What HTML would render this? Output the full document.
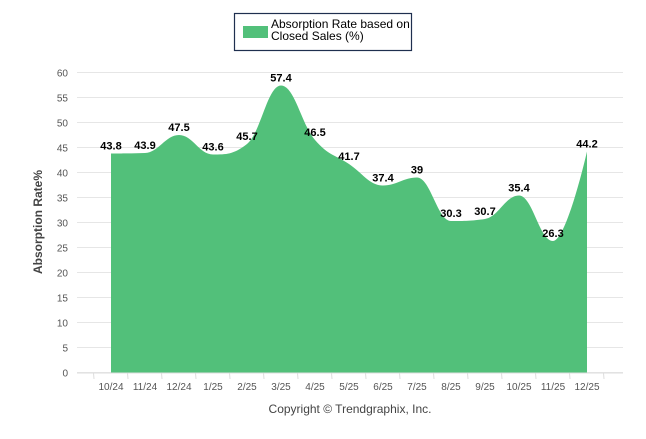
<!DOCTYPE html>
<html><head><meta charset="utf-8"><style>
body{margin:0;background:#fff;font-family:"Liberation Sans",sans-serif}
svg text{font-family:"Liberation Sans",sans-serif}
</style></head><body>
<svg width="646" height="434">
<g id="grid"></g>
<path id="area" fill="#52c07a"></path>
<g id="labels"></g>
<g id="xaxis"></g>
<g id="yaxis"></g>
<text transform="translate(42,222) rotate(-90)" text-anchor="middle" font-size="12" font-weight="bold" fill="#444">Absorption Rate%</text>
<text x="350" y="413" text-anchor="middle" font-size="12" fill="#444">Copyright © Trendgraphix, Inc.</text>
<g>
<rect x="234.5" y="13.5" width="177" height="37" fill="#fff" stroke="#1f2f4f" stroke-width="1.2"/>
<rect x="243" y="26" width="25" height="12" fill="#52c07a"/>
<text x="271" y="28" font-size="12" fill="#000">Absorption Rate based on</text>
<text x="271" y="40" font-size="12" fill="#000">Closed Sales (%)</text>
</g>
</svg>
<script>
const categories=["10/24","11/24","12/24","1/25","2/25","3/25","4/25","5/25","6/25","7/25","8/25","9/25","10/25","11/25","12/25"];
const values=[43.8,43.9,47.5,43.6,45.7,57.4,46.5,41.7,37.4,39,30.3,30.7,35.4,26.3,44.2];
const yTicks=[0,5,10,15,20,25,30,35,40,45,50,55,60];
const NS="http://www.w3.org/2000/svg";
const x=i=>111+i*34, y=v=>372.5-v*5;
function mk(t,a,p,txt){const e=document.createElementNS(NS,t);for(const k in a)e.setAttribute(k,a[k]);if(txt!=null)e.textContent=txt;p.appendChild(e);return e;}
const grid=document.getElementById('grid'),ya=document.getElementById('yaxis'),xa=document.getElementById('xaxis'),lb=document.getElementById('labels');
yTicks.forEach(t=>{
 const l=mk('line',{x1:77,x2:623,y1:y(t),y2:y(t),stroke:'#e6e6e6'},grid);
 
 
 const tx=mk('text',{x:68,y:y(t)+4,'text-anchor':'end','font-size':10,fill:'#555'},ya,t);
 
 
});
mk('line',{x1:77,x2:623,y1:373,y2:373,stroke:'#ddd'},xa);
for(let i=-1;i<categories.length;i++){mk('line',{x1:x(i+0.5)-0.5+0,x2:x(i+0.5),y1:373,y2:379,stroke:'#ddd'},xa);}
categories.forEach((c,i)=>{
 const t=mk('text',{x:x(i),y:390,'text-anchor':'middle','font-size':10,fill:'#555'},xa,c);
 
 
 const v=mk('text',{x:x(i),y:y(values[i])-4,'text-anchor':'middle','font-size':11,'font-weight':'bold',fill:'#000'},lb,values[i]);
 
 
});
const P=values.map((v,i)=>[x(i),y(v)]);
let d=`M${P[0][0]},${y(0)}L${P[0][0]},${P[0][1]}`;
const s=1.5;
function ctrl(i){const p=P[i],a=P[i-1],b=P[i+1];if(!a||!b)return [p,p];
 let lx=(s*p[0]+a[0])/(s+1),ly=(s*p[1]+a[1])/(s+1),rx=(s*p[0]+b[0])/(s+1),ry=(s*p[1]+b[1])/(s+1);
 const m=(ry-ly)/(rx-lx);ly=p[1]+m*(lx-p[0]);ry=p[1]+m*(rx-p[0]);
 if((ly>a[1]&&ly>p[1])||(ly<a[1]&&ly<p[1])){ly=Math.max(Math.min(ly,Math.max(a[1],p[1])),Math.min(a[1],p[1]));ry=2*p[1]-ly;}
 if((ry>b[1]&&ry>p[1])||(ry<b[1]&&ry<p[1])){ry=Math.max(Math.min(ry,Math.max(b[1],p[1])),Math.min(b[1],p[1]));ly=2*p[1]-ry;}
 return [[lx,ly],[rx,ry]];}
for(let i=1;i<P.length;i++){const c1=ctrl(i-1)[1],c2=ctrl(i)[0];d+=`C${c1[0]},${c1[1]} ${c2[0]},${c2[1]} ${P[i][0]},${P[i][1]}`;}
d+=`L${P[P.length-1][0]},${y(0)}Z`;
document.getElementById('area').setAttribute('d',d);
</script>
</body></html>
